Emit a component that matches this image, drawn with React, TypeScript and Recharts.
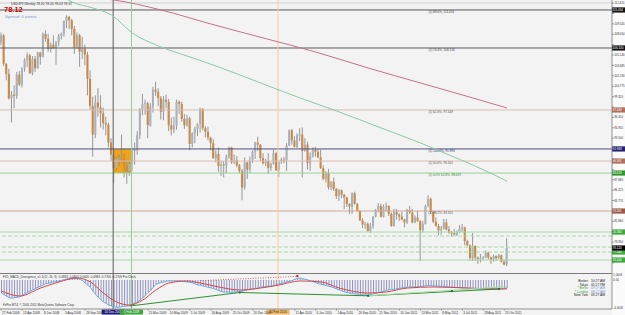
import React from "react";
import {
  ComposedChart,
  Bar,
  Line,
  XAxis,
  YAxis,
  ReferenceLine,
  ReferenceArea,
  ReferenceDot,
} from "recharts";

const FONT = "'Liberation Sans', Arial, sans-serif";

// USDJPY weekly candles [open, high, low, close], week of 17 Feb 2008 .. week of 30 Oct 2011
const ohlc: [number, number, number, number][] = [
  [106.9, 108.3, 106.5, 107.9], [107.9, 108.1, 103.6, 103.9], [103.9, 104.0, 101.6, 102.5], [102.5, 103.2, 98.9, 99.1],
  [99.1, 100.1, 95.7, 99.6], [99.6, 100.9, 97.7, 99.4], [99.4, 102.8, 99.0, 102.4], [102.4, 102.9, 100.8, 101.0],
  [101.0, 103.4, 100.6, 103.3], [103.3, 104.7, 102.8, 104.4], [104.4, 105.5, 103.5, 105.1], [105.1, 105.3, 102.5, 102.6],
  [102.6, 105.0, 102.3, 104.6], [104.6, 105.0, 102.8, 103.3], [103.3, 105.6, 103.2, 105.5], [105.5, 105.6, 103.8, 104.9],
  [104.9, 108.3, 104.8, 108.1], [108.1, 108.6, 107.0, 107.4], [107.4, 108.1, 105.6, 106.0], [106.0, 106.9, 105.5, 106.6],
  [106.6, 107.9, 106.0, 106.1], [106.1, 107.1, 103.8, 106.9], [106.9, 108.1, 106.4, 107.8], [107.8, 108.3, 107.3, 108.1],
  [108.1, 110.0, 107.7, 109.9], [109.9, 110.7, 108.9, 110.5], [110.5, 110.6, 108.8, 110.0], [110.0, 110.2, 107.9, 108.8],
  [108.8, 109.2, 105.3, 106.2], [106.2, 108.3, 106.0, 107.9], [107.9, 108.1, 103.5, 105.6], [105.6, 107.7, 104.6, 106.0],
  [106.0, 106.6, 103.7, 105.2], [105.2, 105.6, 99.5, 101.8], [101.8, 103.0, 97.5, 98.0], [98.0, 99.3, 90.9, 94.0],
  [94.0, 99.5, 93.5, 98.5], [98.5, 100.5, 96.5, 97.8], [97.8, 99.5, 95.0, 97.0], [97.0, 97.8, 94.7, 95.6],
  [95.6, 96.5, 93.9, 95.4], [95.4, 95.7, 92.2, 92.9], [92.9, 93.5, 90.3, 91.2], [91.2, 92.0, 87.2, 89.3],
  [89.3, 91.0, 89.0, 90.6], [90.6, 91.2, 89.6, 90.7], [90.7, 94.0, 90.0, 90.6], [90.6, 91.4, 88.0, 89.7],
  [89.7, 90.4, 87.1, 88.9], [88.9, 90.5, 88.2, 89.9], [89.9, 92.2, 88.9, 91.9], [91.9, 92.9, 89.8, 91.8],
  [91.8, 94.5, 91.2, 93.9], [93.9, 97.7, 93.4, 97.6], [97.6, 99.7, 96.7, 98.3], [98.3, 98.9, 96.8, 98.4],
  [98.4, 98.6, 93.5, 95.3], [95.3, 98.4, 95.1, 97.9], [97.9, 100.7, 97.1, 100.3], [100.3, 101.4, 99.4, 100.0],
  [100.0, 100.5, 98.0, 99.1], [99.1, 99.4, 96.1, 97.2], [97.2, 99.4, 96.0, 98.9], [98.9, 99.6, 97.7, 98.6],
  [98.6, 99.0, 94.5, 95.3], [95.3, 96.4, 93.9, 94.7], [94.7, 96.5, 94.2, 95.3], [95.3, 98.9, 94.7, 98.6],
  [98.6, 98.8, 96.9, 98.3], [98.3, 98.6, 95.8, 96.2], [96.2, 96.9, 94.8, 95.3], [95.3, 96.8, 95.1, 96.3],
  [96.3, 96.5, 91.8, 92.7], [92.7, 94.3, 92.2, 94.2], [94.2, 95.1, 92.8, 94.8], [94.8, 95.6, 93.8, 95.5],
  [95.5, 97.8, 94.3, 97.6], [97.6, 97.7, 94.6, 94.9], [94.9, 95.2, 93.6, 94.4], [94.4, 95.1, 93.2, 93.6],
  [93.6, 93.7, 91.8, 92.8], [92.8, 93.4, 90.6, 90.7], [90.7, 91.8, 90.1, 91.3], [91.3, 92.2, 88.8, 89.6],
  [89.6, 90.3, 88.2, 89.8], [89.8, 90.3, 88.0, 89.7], [89.7, 91.2, 88.6, 90.9], [90.9, 92.3, 90.6, 92.2],
  [92.2, 92.3, 89.9, 90.1], [90.1, 91.2, 89.9, 90.4], [90.4, 91.0, 89.4, 89.7], [89.7, 89.9, 88.6, 88.9],
  [88.9, 89.2, 84.8, 86.6], [86.6, 90.8, 86.3, 90.1], [90.1, 90.2, 87.8, 89.1], [89.1, 90.9, 88.6, 90.4],
  [90.4, 91.8, 90.0, 91.6], [91.6, 93.0, 90.6, 92.9], [92.9, 93.7, 91.7, 92.6], [92.6, 92.7, 90.3, 90.7],
  [90.7, 91.4, 89.8, 90.0], [90.0, 90.6, 89.6, 90.3], [90.3, 91.4, 88.5, 89.3], [89.3, 90.1, 88.9, 89.9],
  [89.9, 91.9, 89.8, 91.4], [91.4, 91.6, 88.9, 89.0], [89.0, 90.4, 88.1, 90.2], [90.2, 90.8, 89.9, 90.5],
  [90.5, 90.9, 90.0, 90.4], [90.4, 92.8, 88.9, 92.5], [92.5, 94.7, 92.4, 94.6], [94.6, 94.8, 92.6, 93.2],
  [93.2, 93.8, 92.2, 92.3], [92.3, 94.2, 92.1, 93.9], [93.9, 94.9, 93.1, 94.0], [94.0, 95.0, 88.0, 91.7],
  [91.7, 93.5, 91.6, 92.6], [92.6, 93.0, 89.1, 90.0], [90.0, 91.5, 88.9, 91.0], [91.0, 92.2, 90.8, 91.9],
  [91.9, 92.3, 90.9, 91.6], [91.6, 92.0, 90.7, 90.8], [90.8, 91.9, 89.2, 89.3], [89.3, 89.7, 87.6, 87.8],
  [87.8, 88.9, 87.3, 88.6], [88.6, 89.2, 86.3, 86.6], [86.6, 87.5, 86.2, 87.4], [87.4, 88.0, 86.1, 86.4],
  [86.4, 86.5, 85.0, 85.4], [85.4, 86.4, 84.7, 86.2], [86.2, 86.3, 85.1, 85.6], [85.6, 85.7, 83.6, 85.2],
  [85.2, 85.3, 83.9, 84.3], [84.3, 84.4, 82.9, 83.9], [83.9, 85.9, 82.9, 85.8], [85.8, 86.0, 84.2, 84.3],
  [84.3, 84.4, 83.2, 83.3], [83.3, 83.4, 81.9, 82.0], [82.0, 82.3, 80.9, 81.4], [81.4, 81.8, 80.8, 81.5],
  [81.5, 81.7, 80.4, 80.5], [80.5, 81.6, 80.2, 81.2], [81.2, 82.6, 80.8, 82.5], [82.5, 83.6, 82.4, 83.5],
  [83.5, 84.4, 83.1, 84.0], [84.0, 84.3, 82.4, 82.5], [82.5, 84.2, 82.4, 83.9], [83.9, 84.5, 83.3, 84.0],
  [84.0, 84.1, 82.6, 82.9], [82.9, 83.1, 81.1, 81.2], [81.2, 83.6, 81.1, 83.2], [83.2, 83.6, 82.1, 82.8],
  [82.8, 83.0, 81.9, 82.5], [82.5, 83.2, 82.0, 82.1], [82.1, 82.2, 81.0, 81.7], [81.7, 83.6, 81.5, 83.4],
  [83.4, 84.0, 82.9, 83.1], [83.1, 83.6, 81.6, 81.7], [81.7, 82.7, 81.6, 82.4], [82.4, 83.3, 81.8, 81.9],
  [81.9, 82.0, 76.3, 80.6], [80.6, 81.9, 80.3, 81.5], [81.5, 84.2, 81.4, 84.0], [84.0, 85.5, 83.8, 85.0],
  [85.0, 85.2, 82.9, 83.2], [83.2, 83.3, 81.6, 81.8], [81.8, 82.4, 81.1, 81.2], [81.2, 81.5, 79.9, 80.6],
  [80.6, 81.2, 80.0, 80.8], [80.8, 82.2, 80.7, 81.7], [81.7, 82.2, 80.6, 80.7], [80.7, 81.2, 80.1, 80.3],
  [80.3, 80.5, 79.7, 80.2], [80.2, 80.8, 79.9, 80.0], [80.0, 80.6, 79.8, 80.4], [80.4, 81.3, 80.2, 80.8],
  [80.8, 81.5, 80.3, 81.0], [81.0, 81.1, 78.5, 79.1], [79.1, 79.3, 78.4, 78.5], [78.5, 78.6, 76.3, 76.7],
  [76.7, 80.2, 76.3, 78.4], [78.4, 78.5, 76.3, 76.8], [76.8, 76.9, 75.9, 76.6], [76.6, 77.3, 76.1, 76.7],
  [76.7, 77.0, 76.4, 76.8], [76.8, 77.8, 76.7, 77.5], [77.5, 77.6, 76.5, 76.8], [76.8, 76.9, 75.9, 76.5],
  [76.5, 77.2, 76.2, 77.0], [77.0, 77.1, 76.3, 76.7], [76.7, 77.3, 76.6, 77.1], [77.1, 77.2, 76.1, 76.2],
  [76.2, 76.5, 75.7, 75.8], [75.8, 79.5, 75.6, 78.12],
];

// MACD main values, one per candle
const macdMain = [
  -1.97, -2.2, -2.45, -2.7, -2.75, -2.7, -2.6, -2.55, -2.35, -2.1, -1.9, -1.7, -1.5, -1.3, -1.1, -0.95,
  -0.75, -0.55, -0.5, -0.4, -0.3, -0.25, -0.15, -0.05, 0.05, 0.15, 0.25, 0.3, 0.3, 0.25, 0.1, -0.1,
  -0.45, -0.8, -1.1, -1.7, -2.2, -2.6, -3.0, -3.3, -3.55, -3.8, -3.95, -4.1, -4.15, -4.1, -4.05, -4.0,
  -3.95, -3.9, -3.7, -3.5, -3.3, -3.04, -2.7, -2.3, -1.9, -1.6, -1.1, -0.7, -0.5, -0.4, -0.3, -0.2,
  -0.15, -0.15, -0.15, -0.1, -0.15, -0.2, -0.25, -0.3, -0.35, -0.45, -0.6, -0.75, -0.8, -0.9, -1.0, -1.1,
  -1.2, -1.3, -1.45, -1.6, -1.75, -1.82, -1.85, -1.85, -1.85, -1.85, -1.8, -1.8, -1.75, -1.6, -1.5, -1.4,
  -1.35, -1.3, -1.2, -1.1, -1.05, -1.0, -0.95, -0.9, -0.85, -0.75, -0.6, -0.5, -0.4, -0.3, -0.2, -0.1,
  0.1, 0.25, 0.3, 0.2, 0.1, 0.0, -0.1, -0.25, -0.4, -0.55, -0.65, -0.75, -0.85, -0.95, -1.05, -1.2,
  -1.35, -1.5, -1.65, -1.8, -1.9, -2.0, -2.05, -2.1, -2.15, -2.2, -2.25, -2.28, -2.28, -2.2, -2.1, -2.0,
  -1.9, -1.8, -1.7, -1.6, -1.5, -1.45, -1.4, -1.35, -1.25, -1.2, -1.15, -1.1, -1.05, -1.05, -1.05, -1.05,
  -1.0, -0.95, -0.9, -0.85, -0.85, -0.9, -0.9, -0.95, -0.95, -1.0, -1.05, -1.05, -1.1, -1.1, -1.15, -1.15,
  -1.2, -1.2, -1.25, -1.3, -1.3, -1.35, -1.4, -1.4, -1.4, -1.4, -1.4, -1.4, -1.4, -1.4, -1.38, -1.35,
  -1.3, -1.22,
];

// MACD signal line [candle index, value]
const macdSignal: [number, number][] = [
  [0, -1.67], [7, -2.43], [15, -1.22], [22, -0.3], [29, 0.3], [34, -0.3], [39, -1.98], [44, -3.34],
  [49, -3.8], [54, -3.04], [59, -1.52], [64, -0.46], [71, -0.15], [76, -0.46], [83, -1.06], [91, -1.52],
  [99, -1.22], [106, -0.76], [114, -0.15], [122, -0.3], [129, -1.22], [140, -1.98], [147, -1.82],
  [155, -1.22], [165, -1.06], [178, -1.22], [190, -1.37], [193, -1.35],
];

// moving averages [candle index, price]
const maGreen: [number, number][] = [
  [20, 114.25], [27, 112.57], [35, 111.73], [42, 110.75], [50, 108.23], [60, 106.41], [72, 104.87],
  [84, 103.33], [100, 101.09], [114, 99.13], [128, 97.31], [140, 95.63], [150, 94.23], [160, 92.83],
  [170, 91.29], [180, 89.74], [193, 87.5],
];
const maMaroon: [number, number][] = [
  [40, 112.99], [43, 112.85], [61, 111.45], [80, 109.49], [100, 107.53], [120, 105.57], [140, 103.33],
  [160, 101.23], [180, 99.13], [193, 97.73],
];

const dateTickIdx = [0, 8, 16, 24, 32, 40, 48, 56, 64, 72, 80, 88, 96, 104, 112, 120, 128, 136, 144, 152, 160, 168, 176, 184, 192];
const dateTickLabels = [
  "27 Feb 2008", "13 Apr 2008", "8 Jun 2008", "3 Aug 2008", "28 Sep 2008", "23 Nov 2008", "18 Jan 2009",
  "15 Mar 2009", "10 May 2009", "5 Jul 2009", "30 Aug 2009", "25 Oct 2009", "20 Dec 2009", "14 Feb 2010",
  "11 Apr 2010", "6 Jun 2010", "1 Aug 2010", "26 Sep 2010", "21 Nov 2010", "16 Jan 2011", "13 Mar 2011",
  "8 May 2011", "3 Jul 2011", "28 Aug 2011", "23 Oct 2011",
];

const priceTicks = [
  112.415, 110.96, 109.505, 108.05, 106.595, 105.14, 103.685, 102.23, 100.775, 99.32, 97.865, 96.41,
  94.955, 93.5, 92.045, 90.59, 89.135, 87.68, 86.225, 84.77, 83.315, 81.86, 80.405, 78.95, 77.495, 76.04,
];

// horizontal levels (fibonacci / support-resistance)
const levelValues = [112.43, 111.454, 106.13, 97.449, 91.993, 90.301, 88.619, 83.301, 80.36, 79.8, 78.26, 77.56, 76.44];
const levelNotes = [
  "", "(1) 88.6%, 111.454", "(1) 76.4%, 106.130", "(1) 61.8%, 97.449", "(1) 100.0%, 91.993",
  "(1) 50.0%, 90.301", "(1) 0.0% 61.8%, 88.619", "(1) 38.2%, 83.301", "", "", "", "", "",
];
const lastPrice = 78.12;

const vLineIdx = [42.7, 49.7, 105.6];
const vLineLabels = ["14 Dec 2008", "1 Feb 2009", "21 Feb 2010"];

const macdTicks = [0.75, 0, -4.25];
const macdTickLabels = ["1.0603", "0.00", "-4.4030"];

const clockCities = ["Broker", "Tokyo", "* Berlin", "* London", "New York"];
const clockTimes = ["10:27 AM", "05:27 PM", "09:27 AM", "08:27 AM", "03:27 AM"];

// ---------- styles ----------
const levelStyles = [
  { stroke: "#cfcfcf", dash: undefined, tag: null, note: "#444" },
  { stroke: "#5a5a5a", dash: undefined, tag: "#111111", note: "#444" },
  { stroke: "#5a5a5a", dash: undefined, tag: "#111111", note: "#444" },
  { stroke: "#dcbcb0", dash: undefined, tag: "#b0705a", note: "#555" },
  { stroke: "#50507c", dash: undefined, tag: "#22226e", note: "#2a2a80" },
  { stroke: "#dcbcb0", dash: undefined, tag: "#b0705a", note: "#555" },
  { stroke: "#98d398", dash: undefined, tag: "#2e9a2e", note: "#2e8a2e" },
  { stroke: "#cfa898", dash: undefined, tag: "#9a5a48", note: "#555" },
  { stroke: "#a4dca4", dash: undefined, tag: "#3caa3c", note: "#444" },
  { stroke: "#a4dca4", dash: "4 2", tag: null, note: "#444" },
  { stroke: "#a4dca4", dash: "4 2", tag: null, note: "#444" },
  { stroke: "#a4dca4", dash: "4 2", tag: "#3caa3c", note: "#444" },
  { stroke: "#a4dca4", dash: undefined, tag: "#3caa3c", note: "#444" },
];
const vLineStyles = [
  { stroke: "#5a5a5a", tag: "#1c1c78", text: "#ffffff" },
  { stroke: "#94cf94", tag: "#3aa83a", text: "#ffffff" },
  { stroke: "#f2cf9c", tag: "#f0b860", text: "#333333" },
];

const X_DOMAIN: [number, number] = [-0.5, 233.1];
const PRICE_DOMAIN: [number, number] = [74.62, 112.85];
const MACD_DOMAIN: [number, number] = [-4.4, 1.06];
const TAG_HALF_PRICE = 0.62; // ~4.4px at this price scale

const greenMap = new Map(maGreen);
const maroonMap = new Map(maMaroon);
const signalMap = new Map(macdSignal);

const taggedPrices = [
  ...levelValues.filter((_, k) => levelStyles[k].tag),
  lastPrice,
];

const rows = ohlc.map(([o, h, l, c], i) => ({
  i,
  o,
  h,
  l,
  c,
  range: [l, h],
  maG: greenMap.has(i) ? greenMap.get(i) : null,
  maR: maroonMap.has(i) ? maroonMap.get(i) : null,
  macd: macdMain[i],
  sig: signalMap.has(i) ? signalMap.get(i) : null,
}));

const Candle = (props: any) => {
  let { x, y, width, height, payload } = props;
  if (!payload || height == null) return null;
  if (height < 0) {
    y = y + height;
    height = -height;
  }
  const { o, h, l, c } = payload;
  const span = h - l || 1e-6;
  const k = height / span;
  const cx = x + width / 2;
  const yO = y + (h - o) * k;
  const yC = y + (h - c) * k;
  const up = c >= o;
  const top = Math.min(yO, yC);
  const bh = Math.max(1, Math.abs(yO - yC));
  return (
    <g>
      <line x1={cx} x2={cx} y1={y} y2={y + height} stroke="#8c8c8c" strokeWidth={0.9} />
      <rect x={cx - 1.05} y={top} width={2.1} height={bh} fill={up ? "#a9b1bb" : "#c88a45"} />
    </g>
  );
};

const HTag = (props: any) => {
  const { viewBox, note, noteColor, tag, tagText } = props;
  if (!viewBox) return null;
  const { x, y, width } = viewBox;
  return (
    <g>
      {note ? (
        <text x={x + width * 0.7} y={y + 3.4} fontSize={3.1} fill={noteColor} fontFamily={FONT}>
          {note}
        </text>
      ) : null}
      {tag ? (
        <g>
          <rect x={x + width} y={y - 2.6} width={13} height={5.2} fill={tag} />
          <text x={x + width + 0.6} y={y + 1.1} fontSize={3} fill="#ffffff" fontFamily={FONT}>
            {tagText}
          </text>
        </g>
      ) : null}
    </g>
  );
};

const VTag = (props: any) => {
  const { viewBox, text, bg, fg } = props;
  if (!viewBox) return null;
  const { x, y, height } = viewBox;
  return (
    <g>
      <rect x={x - 11.5} y={y + height + 0.5} width={23} height={5} fill={bg} />
      <text x={x} y={y + height + 4.2} fontSize={3.1} fill={fg} textAnchor="middle" fontFamily={FONT}>
        {text}
      </text>
    </g>
  );
};

const PriceTick = (props: any) => {
  const { y, payload } = props;
  const v = Number(payload.value);
  const hidden = taggedPrices.some((p) => Math.abs(p - v) < TAG_HALF_PRICE);
  return (
    <g>
      <line x1={612} x2={614} y1={y} y2={y} stroke="#666" strokeWidth={0.6} />
      {hidden ? null : (
        <text x={614.2} y={y + 1.1} fontSize={2.9} fill="#333" fontFamily={FONT}>
          {v.toFixed(3)}
        </text>
      )}
    </g>
  );
};

const MacdTick = (props: any) => {
  const { y, payload, index } = props;
  return (
    <g>
      <text x={613.3} y={y + 1.1} fontSize={2.9} fill="#333" fontFamily={FONT}>
        {macdTickLabels[index] ?? String(payload.value)}
      </text>
    </g>
  );
};

const DateTick = (props: any) => {
  const { x, y, payload } = props;
  const k = dateTickIdx.indexOf(payload.value);
  const covered = vLineIdx.some((v) => payload.value > v - 6 && payload.value < v + 5);
  return (
    <g>
      <line x1={x} x2={x} y1={y} y2={y + 1.5} stroke="#666" strokeWidth={0.6} />
      {covered || k < 0 ? null : (
        <text x={x + 0.8} y={y + 4.6} fontSize={3.1} fill="#333" fontFamily={FONT}>
          {dateTickLabels[k]}
        </text>
      )}
    </g>
  );
};

export default function App() {
  return (
    <div
      style={{
        position: "absolute",
        left: 0,
        top: 0,
        width: 625,
        height: 315,
        overflow: "hidden",
        background: "#f3f3f3",
      }}
    >
      <div style={{ position: "absolute", left: 612, top: 0, width: 13, height: 315, background: "#fbfbfb" }} />
      <div style={{ position: "absolute", left: 0, top: 0 }}>
        <ComposedChart width={625} height={273} data={rows} margin={{ top: 0, right: 0, bottom: 0, left: 0 }}>
          <XAxis dataKey="i" type="number" domain={X_DOMAIN} allowDataOverflow hide />
          <YAxis
            orientation="right"
            type="number"
            width={13}
            domain={PRICE_DOMAIN}
            allowDataOverflow
            ticks={priceTicks}
            interval={0}
            tick={<PriceTick />}
            tickLine={false}
            tickSize={0}
            tickMargin={0}
            axisLine={{ stroke: "#777", strokeWidth: 0.8 }}
          />
          <ReferenceArea
            x1={vLineIdx[0]}
            x2={vLineIdx[1]}
            y1={levelValues[6]}
            y2={levelValues[4]}
            fill="#f2a414"
            fillOpacity={1}
            stroke="none"
          />
          {levelValues.map((v, k) => (
            <ReferenceLine
              key={"h" + k}
              y={v}
              stroke={levelStyles[k].stroke}
              strokeWidth={1}
              strokeDasharray={levelStyles[k].dash}
              label={
                <HTag
                  note={levelNotes[k]}
                  noteColor={levelStyles[k].note}
                  tag={levelStyles[k].tag}
                  tagText={v.toFixed(3)}
                />
              }
            />
          ))}
          {vLineIdx.map((v, k) => (
            <ReferenceLine key={"v" + k} x={v} stroke={vLineStyles[k].stroke} strokeWidth={1} />
          ))}
          <Line
            dataKey="maG"
            type="monotone"
            stroke="#8cc9a6"
            strokeWidth={1}
            dot={false}
            connectNulls
            isAnimationActive={false}
          />
          <Line
            dataKey="maR"
            type="monotone"
            stroke="#c27484"
            strokeWidth={1}
            dot={false}
            connectNulls
            isAnimationActive={false}
          />
          <Bar dataKey="range" barSize={2} shape={(p: any) => <Candle {...p} />} isAnimationActive={false} />
          <ReferenceLine
            y={lastPrice}
            stroke="none"
            label={<HTag note="" tag="#000000" tagText={lastPrice.toFixed(3)} />}
          />
        </ComposedChart>
      </div>
      <div style={{ position: "absolute", left: 0, top: 272.5, width: 612, height: 1, background: "#7a7a7a" }} />
      <div style={{ position: "absolute", left: 0, top: 273 }}>
        <ComposedChart width={625} height={42} data={rows} margin={{ top: 0, right: 0, bottom: 0, left: 0 }}>
          <XAxis
            dataKey="i"
            type="number"
            domain={X_DOMAIN}
            allowDataOverflow
            ticks={dateTickIdx}
            interval={0}
            height={6}
            tick={<DateTick />}
            tickLine={false}
            tickSize={0}
            tickMargin={0}
            axisLine={{ stroke: "#777", strokeWidth: 0.8 }}
          />
          <YAxis
            orientation="right"
            type="number"
            width={13}
            domain={MACD_DOMAIN}
            allowDataOverflow
            ticks={macdTicks}
            interval={0}
            tick={<MacdTick />}
            tickLine={false}
            tickSize={0}
            tickMargin={0}
            axisLine={{ stroke: "#777", strokeWidth: 0.8 }}
          />
          {vLineIdx.map((v, k) => (
            <ReferenceLine
              key={"iv" + k}
              x={v}
              stroke={vLineStyles[k].stroke}
              strokeWidth={1}
              label={<VTag text={vLineLabels[k]} bg={vLineStyles[k].tag} fg={vLineStyles[k].text} />}
            />
          ))}
          <Bar dataKey="macd" barSize={1} fill="#8f8fc2" isAnimationActive={false} />
          <Line
            dataKey="macd"
            type="linear"
            stroke="#6aaae6"
            strokeWidth={1}
            dot={false}
            isAnimationActive={false}
          />
          <Line
            dataKey="sig"
            type="monotone"
            stroke="#d24848"
            strokeWidth={1}
            dot={false}
            connectNulls
            isAnimationActive={false}
          />
          <ReferenceLine
            segment={[{ x: 49, y: -3.95 }, { x: 91, y: -1.9 }]}
            stroke="#2f8f2f"
            strokeWidth={1}
          />
          <ReferenceLine
            segment={[{ x: 91, y: -1.9 }, { x: 140, y: -2.4 }]}
            stroke="#2f8f2f"
            strokeWidth={1}
          />
          <ReferenceLine
            segment={[{ x: 140, y: -2.4 }, { x: 190, y: -1.37 }]}
            stroke="#2f8f2f"
            strokeWidth={1}
          />
          <ReferenceLine
            segment={[{ x: 140, y: -2.4 }, { x: 193, y: -1.0 }]}
            stroke="#a6dca6"
            strokeWidth={1}
          />
          <ReferenceLine
            segment={[{ x: 76, y: -0.1 }, { x: 113, y: 0.55 }]}
            stroke="#d04040"
            strokeWidth={0.8}
            strokeDasharray="1 1.5"
          />
          <ReferenceDot x={113} y={0.6} r={1.2} fill="#c03030" stroke="none" />
          <ReferenceDot x={91} y={-1.9} r={1.1} fill="#1f6f1f" stroke="none" />
          <ReferenceDot x={140} y={-2.4} r={1.1} fill="#1f6f1f" stroke="none" />
          <ReferenceDot x={172} y={-1.7} r={1.1} fill="#1f6f1f" stroke="none" />
          <ReferenceDot x={190} y={-1.37} r={1.1} fill="#1f6f1f" stroke="none" />
        </ComposedChart>
      </div>
      <svg
        width={625}
        height={315}
        style={{ position: "absolute", left: 0, top: 0, pointerEvents: "none" }}
      >
        <text x={11} y={4.6} fontSize={3.3} fill="#333" fontFamily={FONT}>
          USDJPY,Weekly  78.20 78.20 78.03 78.12
        </text>
        <text x={4} y={12} fontSize={7.5} fontWeight="bold" fill="#cc0000" fontFamily={FONT}>
          78.12
        </text>
        <text x={5} y={17.5} fontSize={4.4} fill="#7a9cc8" fontFamily={FONT}>
          Spread: 0 points
        </text>
        <text x={3} y={277.8} fontSize={3} fill="#333" fontFamily={FONT}>
          FX5_MACD_Divergence_v1.1(12, 26, 9) -0.4983 -1.0802 0.0000 -0.4983 -0.7706 -0.2709 Pro Clock
        </text>
        <text x={3} y={305.6} fontSize={3} fill="#333" fontFamily={FONT}>
          FxPro MT4, © 2001-2011 MetaQuotes Software Corp.
        </text>
        {clockCities.map((c, k) => (
          <g key={"clk" + k}>
            <text
              x={588}
              y={282 + k * 3.6}
              fontSize={3.3}
              textAnchor="end"
              fill={k === 2 || k === 3 ? "#3aa83a" : "#222"}
              fontFamily={FONT}
            >
              {c}
            </text>
            <text
              x={591}
              y={282 + k * 3.6}
              fontSize={3.3}
              fill={k === 2 || k === 3 ? "#6f93d0" : "#222"}
              fontFamily={FONT}
            >
              {clockTimes[k]}
            </text>
          </g>
        ))}
      </svg>
    </div>
  );
}
